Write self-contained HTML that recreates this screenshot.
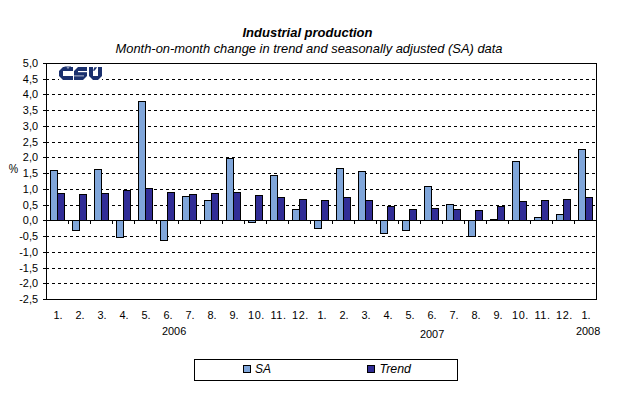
<!DOCTYPE html>
<html><head><meta charset="utf-8"><style>
html,body{margin:0;padding:0;background:#fff;}
svg{display:block;}
text{font-family:"Liberation Sans", sans-serif;fill:#000;}
</style></head><body>
<svg width="618" height="396" viewBox="0 0 618 396">
<g shape-rendering="crispEdges">
<path d="M46 79h3 M52 79h3 M58 79h3 M64 79h3 M70 79h3 M76 79h3 M82 79h3 M88 79h3 M94 79h3 M100 79h3 M106 79h3 M112 79h3 M118 79h3 M124 79h3 M130 79h3 M136 79h3 M142 79h3 M148 79h3 M154 79h3 M160 79h3 M166 79h3 M172 79h3 M178 79h3 M184 79h3 M190 79h3 M196 79h3 M202 79h3 M208 79h3 M214 79h3 M220 79h3 M226 79h3 M232 79h3 M238 79h3 M244 79h3 M250 79h3 M256 79h3 M262 79h3 M268 79h3 M274 79h3 M280 79h3 M286 79h3 M292 79h3 M298 79h3 M304 79h3 M310 79h3 M316 79h3 M322 79h3 M328 79h3 M334 79h3 M340 79h3 M346 79h3 M352 79h3 M358 79h3 M364 79h3 M370 79h3 M376 79h3 M382 79h3 M388 79h3 M394 79h3 M400 79h3 M406 79h3 M412 79h3 M418 79h3 M424 79h3 M430 79h3 M436 79h3 M442 79h3 M448 79h3 M454 79h3 M460 79h3 M466 79h3 M472 79h3 M478 79h3 M484 79h3 M490 79h3 M496 79h3 M502 79h3 M508 79h3 M514 79h3 M520 79h3 M526 79h3 M532 79h3 M538 79h3 M544 79h3 M550 79h3 M556 79h3 M562 79h3 M568 79h3 M574 79h3 M580 79h3 M586 79h3 M592 79h3" stroke="#000" stroke-width="1" transform="translate(0,0.5)"/>
<path d="M46 94h3 M52 94h3 M58 94h3 M64 94h3 M70 94h3 M76 94h3 M82 94h3 M88 94h3 M94 94h3 M100 94h3 M106 94h3 M112 94h3 M118 94h3 M124 94h3 M130 94h3 M136 94h3 M142 94h3 M148 94h3 M154 94h3 M160 94h3 M166 94h3 M172 94h3 M178 94h3 M184 94h3 M190 94h3 M196 94h3 M202 94h3 M208 94h3 M214 94h3 M220 94h3 M226 94h3 M232 94h3 M238 94h3 M244 94h3 M250 94h3 M256 94h3 M262 94h3 M268 94h3 M274 94h3 M280 94h3 M286 94h3 M292 94h3 M298 94h3 M304 94h3 M310 94h3 M316 94h3 M322 94h3 M328 94h3 M334 94h3 M340 94h3 M346 94h3 M352 94h3 M358 94h3 M364 94h3 M370 94h3 M376 94h3 M382 94h3 M388 94h3 M394 94h3 M400 94h3 M406 94h3 M412 94h3 M418 94h3 M424 94h3 M430 94h3 M436 94h3 M442 94h3 M448 94h3 M454 94h3 M460 94h3 M466 94h3 M472 94h3 M478 94h3 M484 94h3 M490 94h3 M496 94h3 M502 94h3 M508 94h3 M514 94h3 M520 94h3 M526 94h3 M532 94h3 M538 94h3 M544 94h3 M550 94h3 M556 94h3 M562 94h3 M568 94h3 M574 94h3 M580 94h3 M586 94h3 M592 94h3" stroke="#000" stroke-width="1" transform="translate(0,0.5)"/>
<path d="M46 110h3 M52 110h3 M58 110h3 M64 110h3 M70 110h3 M76 110h3 M82 110h3 M88 110h3 M94 110h3 M100 110h3 M106 110h3 M112 110h3 M118 110h3 M124 110h3 M130 110h3 M136 110h3 M142 110h3 M148 110h3 M154 110h3 M160 110h3 M166 110h3 M172 110h3 M178 110h3 M184 110h3 M190 110h3 M196 110h3 M202 110h3 M208 110h3 M214 110h3 M220 110h3 M226 110h3 M232 110h3 M238 110h3 M244 110h3 M250 110h3 M256 110h3 M262 110h3 M268 110h3 M274 110h3 M280 110h3 M286 110h3 M292 110h3 M298 110h3 M304 110h3 M310 110h3 M316 110h3 M322 110h3 M328 110h3 M334 110h3 M340 110h3 M346 110h3 M352 110h3 M358 110h3 M364 110h3 M370 110h3 M376 110h3 M382 110h3 M388 110h3 M394 110h3 M400 110h3 M406 110h3 M412 110h3 M418 110h3 M424 110h3 M430 110h3 M436 110h3 M442 110h3 M448 110h3 M454 110h3 M460 110h3 M466 110h3 M472 110h3 M478 110h3 M484 110h3 M490 110h3 M496 110h3 M502 110h3 M508 110h3 M514 110h3 M520 110h3 M526 110h3 M532 110h3 M538 110h3 M544 110h3 M550 110h3 M556 110h3 M562 110h3 M568 110h3 M574 110h3 M580 110h3 M586 110h3 M592 110h3" stroke="#000" stroke-width="1" transform="translate(0,0.5)"/>
<path d="M46 126h3 M52 126h3 M58 126h3 M64 126h3 M70 126h3 M76 126h3 M82 126h3 M88 126h3 M94 126h3 M100 126h3 M106 126h3 M112 126h3 M118 126h3 M124 126h3 M130 126h3 M136 126h3 M142 126h3 M148 126h3 M154 126h3 M160 126h3 M166 126h3 M172 126h3 M178 126h3 M184 126h3 M190 126h3 M196 126h3 M202 126h3 M208 126h3 M214 126h3 M220 126h3 M226 126h3 M232 126h3 M238 126h3 M244 126h3 M250 126h3 M256 126h3 M262 126h3 M268 126h3 M274 126h3 M280 126h3 M286 126h3 M292 126h3 M298 126h3 M304 126h3 M310 126h3 M316 126h3 M322 126h3 M328 126h3 M334 126h3 M340 126h3 M346 126h3 M352 126h3 M358 126h3 M364 126h3 M370 126h3 M376 126h3 M382 126h3 M388 126h3 M394 126h3 M400 126h3 M406 126h3 M412 126h3 M418 126h3 M424 126h3 M430 126h3 M436 126h3 M442 126h3 M448 126h3 M454 126h3 M460 126h3 M466 126h3 M472 126h3 M478 126h3 M484 126h3 M490 126h3 M496 126h3 M502 126h3 M508 126h3 M514 126h3 M520 126h3 M526 126h3 M532 126h3 M538 126h3 M544 126h3 M550 126h3 M556 126h3 M562 126h3 M568 126h3 M574 126h3 M580 126h3 M586 126h3 M592 126h3" stroke="#000" stroke-width="1" transform="translate(0,0.5)"/>
<path d="M46 142h3 M52 142h3 M58 142h3 M64 142h3 M70 142h3 M76 142h3 M82 142h3 M88 142h3 M94 142h3 M100 142h3 M106 142h3 M112 142h3 M118 142h3 M124 142h3 M130 142h3 M136 142h3 M142 142h3 M148 142h3 M154 142h3 M160 142h3 M166 142h3 M172 142h3 M178 142h3 M184 142h3 M190 142h3 M196 142h3 M202 142h3 M208 142h3 M214 142h3 M220 142h3 M226 142h3 M232 142h3 M238 142h3 M244 142h3 M250 142h3 M256 142h3 M262 142h3 M268 142h3 M274 142h3 M280 142h3 M286 142h3 M292 142h3 M298 142h3 M304 142h3 M310 142h3 M316 142h3 M322 142h3 M328 142h3 M334 142h3 M340 142h3 M346 142h3 M352 142h3 M358 142h3 M364 142h3 M370 142h3 M376 142h3 M382 142h3 M388 142h3 M394 142h3 M400 142h3 M406 142h3 M412 142h3 M418 142h3 M424 142h3 M430 142h3 M436 142h3 M442 142h3 M448 142h3 M454 142h3 M460 142h3 M466 142h3 M472 142h3 M478 142h3 M484 142h3 M490 142h3 M496 142h3 M502 142h3 M508 142h3 M514 142h3 M520 142h3 M526 142h3 M532 142h3 M538 142h3 M544 142h3 M550 142h3 M556 142h3 M562 142h3 M568 142h3 M574 142h3 M580 142h3 M586 142h3 M592 142h3" stroke="#000" stroke-width="1" transform="translate(0,0.5)"/>
<path d="M46 157h3 M52 157h3 M58 157h3 M64 157h3 M70 157h3 M76 157h3 M82 157h3 M88 157h3 M94 157h3 M100 157h3 M106 157h3 M112 157h3 M118 157h3 M124 157h3 M130 157h3 M136 157h3 M142 157h3 M148 157h3 M154 157h3 M160 157h3 M166 157h3 M172 157h3 M178 157h3 M184 157h3 M190 157h3 M196 157h3 M202 157h3 M208 157h3 M214 157h3 M220 157h3 M226 157h3 M232 157h3 M238 157h3 M244 157h3 M250 157h3 M256 157h3 M262 157h3 M268 157h3 M274 157h3 M280 157h3 M286 157h3 M292 157h3 M298 157h3 M304 157h3 M310 157h3 M316 157h3 M322 157h3 M328 157h3 M334 157h3 M340 157h3 M346 157h3 M352 157h3 M358 157h3 M364 157h3 M370 157h3 M376 157h3 M382 157h3 M388 157h3 M394 157h3 M400 157h3 M406 157h3 M412 157h3 M418 157h3 M424 157h3 M430 157h3 M436 157h3 M442 157h3 M448 157h3 M454 157h3 M460 157h3 M466 157h3 M472 157h3 M478 157h3 M484 157h3 M490 157h3 M496 157h3 M502 157h3 M508 157h3 M514 157h3 M520 157h3 M526 157h3 M532 157h3 M538 157h3 M544 157h3 M550 157h3 M556 157h3 M562 157h3 M568 157h3 M574 157h3 M580 157h3 M586 157h3 M592 157h3" stroke="#000" stroke-width="1" transform="translate(0,0.5)"/>
<path d="M46 173h3 M52 173h3 M58 173h3 M64 173h3 M70 173h3 M76 173h3 M82 173h3 M88 173h3 M94 173h3 M100 173h3 M106 173h3 M112 173h3 M118 173h3 M124 173h3 M130 173h3 M136 173h3 M142 173h3 M148 173h3 M154 173h3 M160 173h3 M166 173h3 M172 173h3 M178 173h3 M184 173h3 M190 173h3 M196 173h3 M202 173h3 M208 173h3 M214 173h3 M220 173h3 M226 173h3 M232 173h3 M238 173h3 M244 173h3 M250 173h3 M256 173h3 M262 173h3 M268 173h3 M274 173h3 M280 173h3 M286 173h3 M292 173h3 M298 173h3 M304 173h3 M310 173h3 M316 173h3 M322 173h3 M328 173h3 M334 173h3 M340 173h3 M346 173h3 M352 173h3 M358 173h3 M364 173h3 M370 173h3 M376 173h3 M382 173h3 M388 173h3 M394 173h3 M400 173h3 M406 173h3 M412 173h3 M418 173h3 M424 173h3 M430 173h3 M436 173h3 M442 173h3 M448 173h3 M454 173h3 M460 173h3 M466 173h3 M472 173h3 M478 173h3 M484 173h3 M490 173h3 M496 173h3 M502 173h3 M508 173h3 M514 173h3 M520 173h3 M526 173h3 M532 173h3 M538 173h3 M544 173h3 M550 173h3 M556 173h3 M562 173h3 M568 173h3 M574 173h3 M580 173h3 M586 173h3 M592 173h3" stroke="#000" stroke-width="1" transform="translate(0,0.5)"/>
<path d="M46 189h3 M52 189h3 M58 189h3 M64 189h3 M70 189h3 M76 189h3 M82 189h3 M88 189h3 M94 189h3 M100 189h3 M106 189h3 M112 189h3 M118 189h3 M124 189h3 M130 189h3 M136 189h3 M142 189h3 M148 189h3 M154 189h3 M160 189h3 M166 189h3 M172 189h3 M178 189h3 M184 189h3 M190 189h3 M196 189h3 M202 189h3 M208 189h3 M214 189h3 M220 189h3 M226 189h3 M232 189h3 M238 189h3 M244 189h3 M250 189h3 M256 189h3 M262 189h3 M268 189h3 M274 189h3 M280 189h3 M286 189h3 M292 189h3 M298 189h3 M304 189h3 M310 189h3 M316 189h3 M322 189h3 M328 189h3 M334 189h3 M340 189h3 M346 189h3 M352 189h3 M358 189h3 M364 189h3 M370 189h3 M376 189h3 M382 189h3 M388 189h3 M394 189h3 M400 189h3 M406 189h3 M412 189h3 M418 189h3 M424 189h3 M430 189h3 M436 189h3 M442 189h3 M448 189h3 M454 189h3 M460 189h3 M466 189h3 M472 189h3 M478 189h3 M484 189h3 M490 189h3 M496 189h3 M502 189h3 M508 189h3 M514 189h3 M520 189h3 M526 189h3 M532 189h3 M538 189h3 M544 189h3 M550 189h3 M556 189h3 M562 189h3 M568 189h3 M574 189h3 M580 189h3 M586 189h3 M592 189h3" stroke="#000" stroke-width="1" transform="translate(0,0.5)"/>
<path d="M46 205h3 M52 205h3 M58 205h3 M64 205h3 M70 205h3 M76 205h3 M82 205h3 M88 205h3 M94 205h3 M100 205h3 M106 205h3 M112 205h3 M118 205h3 M124 205h3 M130 205h3 M136 205h3 M142 205h3 M148 205h3 M154 205h3 M160 205h3 M166 205h3 M172 205h3 M178 205h3 M184 205h3 M190 205h3 M196 205h3 M202 205h3 M208 205h3 M214 205h3 M220 205h3 M226 205h3 M232 205h3 M238 205h3 M244 205h3 M250 205h3 M256 205h3 M262 205h3 M268 205h3 M274 205h3 M280 205h3 M286 205h3 M292 205h3 M298 205h3 M304 205h3 M310 205h3 M316 205h3 M322 205h3 M328 205h3 M334 205h3 M340 205h3 M346 205h3 M352 205h3 M358 205h3 M364 205h3 M370 205h3 M376 205h3 M382 205h3 M388 205h3 M394 205h3 M400 205h3 M406 205h3 M412 205h3 M418 205h3 M424 205h3 M430 205h3 M436 205h3 M442 205h3 M448 205h3 M454 205h3 M460 205h3 M466 205h3 M472 205h3 M478 205h3 M484 205h3 M490 205h3 M496 205h3 M502 205h3 M508 205h3 M514 205h3 M520 205h3 M526 205h3 M532 205h3 M538 205h3 M544 205h3 M550 205h3 M556 205h3 M562 205h3 M568 205h3 M574 205h3 M580 205h3 M586 205h3 M592 205h3" stroke="#000" stroke-width="1" transform="translate(0,0.5)"/>
<path d="M46 236h3 M52 236h3 M58 236h3 M64 236h3 M70 236h3 M76 236h3 M82 236h3 M88 236h3 M94 236h3 M100 236h3 M106 236h3 M112 236h3 M118 236h3 M124 236h3 M130 236h3 M136 236h3 M142 236h3 M148 236h3 M154 236h3 M160 236h3 M166 236h3 M172 236h3 M178 236h3 M184 236h3 M190 236h3 M196 236h3 M202 236h3 M208 236h3 M214 236h3 M220 236h3 M226 236h3 M232 236h3 M238 236h3 M244 236h3 M250 236h3 M256 236h3 M262 236h3 M268 236h3 M274 236h3 M280 236h3 M286 236h3 M292 236h3 M298 236h3 M304 236h3 M310 236h3 M316 236h3 M322 236h3 M328 236h3 M334 236h3 M340 236h3 M346 236h3 M352 236h3 M358 236h3 M364 236h3 M370 236h3 M376 236h3 M382 236h3 M388 236h3 M394 236h3 M400 236h3 M406 236h3 M412 236h3 M418 236h3 M424 236h3 M430 236h3 M436 236h3 M442 236h3 M448 236h3 M454 236h3 M460 236h3 M466 236h3 M472 236h3 M478 236h3 M484 236h3 M490 236h3 M496 236h3 M502 236h3 M508 236h3 M514 236h3 M520 236h3 M526 236h3 M532 236h3 M538 236h3 M544 236h3 M550 236h3 M556 236h3 M562 236h3 M568 236h3 M574 236h3 M580 236h3 M586 236h3 M592 236h3" stroke="#000" stroke-width="1" transform="translate(0,0.5)"/>
<path d="M46 252h3 M52 252h3 M58 252h3 M64 252h3 M70 252h3 M76 252h3 M82 252h3 M88 252h3 M94 252h3 M100 252h3 M106 252h3 M112 252h3 M118 252h3 M124 252h3 M130 252h3 M136 252h3 M142 252h3 M148 252h3 M154 252h3 M160 252h3 M166 252h3 M172 252h3 M178 252h3 M184 252h3 M190 252h3 M196 252h3 M202 252h3 M208 252h3 M214 252h3 M220 252h3 M226 252h3 M232 252h3 M238 252h3 M244 252h3 M250 252h3 M256 252h3 M262 252h3 M268 252h3 M274 252h3 M280 252h3 M286 252h3 M292 252h3 M298 252h3 M304 252h3 M310 252h3 M316 252h3 M322 252h3 M328 252h3 M334 252h3 M340 252h3 M346 252h3 M352 252h3 M358 252h3 M364 252h3 M370 252h3 M376 252h3 M382 252h3 M388 252h3 M394 252h3 M400 252h3 M406 252h3 M412 252h3 M418 252h3 M424 252h3 M430 252h3 M436 252h3 M442 252h3 M448 252h3 M454 252h3 M460 252h3 M466 252h3 M472 252h3 M478 252h3 M484 252h3 M490 252h3 M496 252h3 M502 252h3 M508 252h3 M514 252h3 M520 252h3 M526 252h3 M532 252h3 M538 252h3 M544 252h3 M550 252h3 M556 252h3 M562 252h3 M568 252h3 M574 252h3 M580 252h3 M586 252h3 M592 252h3" stroke="#000" stroke-width="1" transform="translate(0,0.5)"/>
<path d="M46 268h3 M52 268h3 M58 268h3 M64 268h3 M70 268h3 M76 268h3 M82 268h3 M88 268h3 M94 268h3 M100 268h3 M106 268h3 M112 268h3 M118 268h3 M124 268h3 M130 268h3 M136 268h3 M142 268h3 M148 268h3 M154 268h3 M160 268h3 M166 268h3 M172 268h3 M178 268h3 M184 268h3 M190 268h3 M196 268h3 M202 268h3 M208 268h3 M214 268h3 M220 268h3 M226 268h3 M232 268h3 M238 268h3 M244 268h3 M250 268h3 M256 268h3 M262 268h3 M268 268h3 M274 268h3 M280 268h3 M286 268h3 M292 268h3 M298 268h3 M304 268h3 M310 268h3 M316 268h3 M322 268h3 M328 268h3 M334 268h3 M340 268h3 M346 268h3 M352 268h3 M358 268h3 M364 268h3 M370 268h3 M376 268h3 M382 268h3 M388 268h3 M394 268h3 M400 268h3 M406 268h3 M412 268h3 M418 268h3 M424 268h3 M430 268h3 M436 268h3 M442 268h3 M448 268h3 M454 268h3 M460 268h3 M466 268h3 M472 268h3 M478 268h3 M484 268h3 M490 268h3 M496 268h3 M502 268h3 M508 268h3 M514 268h3 M520 268h3 M526 268h3 M532 268h3 M538 268h3 M544 268h3 M550 268h3 M556 268h3 M562 268h3 M568 268h3 M574 268h3 M580 268h3 M586 268h3 M592 268h3" stroke="#000" stroke-width="1" transform="translate(0,0.5)"/>
<path d="M46 283h3 M52 283h3 M58 283h3 M64 283h3 M70 283h3 M76 283h3 M82 283h3 M88 283h3 M94 283h3 M100 283h3 M106 283h3 M112 283h3 M118 283h3 M124 283h3 M130 283h3 M136 283h3 M142 283h3 M148 283h3 M154 283h3 M160 283h3 M166 283h3 M172 283h3 M178 283h3 M184 283h3 M190 283h3 M196 283h3 M202 283h3 M208 283h3 M214 283h3 M220 283h3 M226 283h3 M232 283h3 M238 283h3 M244 283h3 M250 283h3 M256 283h3 M262 283h3 M268 283h3 M274 283h3 M280 283h3 M286 283h3 M292 283h3 M298 283h3 M304 283h3 M310 283h3 M316 283h3 M322 283h3 M328 283h3 M334 283h3 M340 283h3 M346 283h3 M352 283h3 M358 283h3 M364 283h3 M370 283h3 M376 283h3 M382 283h3 M388 283h3 M394 283h3 M400 283h3 M406 283h3 M412 283h3 M418 283h3 M424 283h3 M430 283h3 M436 283h3 M442 283h3 M448 283h3 M454 283h3 M460 283h3 M466 283h3 M472 283h3 M478 283h3 M484 283h3 M490 283h3 M496 283h3 M502 283h3 M508 283h3 M514 283h3 M520 283h3 M526 283h3 M532 283h3 M538 283h3 M544 283h3 M550 283h3 M556 283h3 M562 283h3 M568 283h3 M574 283h3 M580 283h3 M586 283h3 M592 283h3" stroke="#000" stroke-width="1" transform="translate(0,0.5)"/>
<rect x="50" y="170" width="8" height="51" fill="#000"/>
<rect x="51" y="171" width="6" height="49" fill="#80a6da"/>
<rect x="57" y="193" width="8" height="28" fill="#000"/>
<rect x="58" y="194" width="6" height="26" fill="#312d96"/>
<rect x="72" y="220" width="8" height="11" fill="#000"/>
<rect x="73" y="221" width="6" height="9" fill="#80a6da"/>
<rect x="79" y="194" width="8" height="27" fill="#000"/>
<rect x="80" y="195" width="6" height="25" fill="#312d96"/>
<rect x="94" y="169" width="8" height="52" fill="#000"/>
<rect x="95" y="170" width="6" height="50" fill="#80a6da"/>
<rect x="101" y="193" width="8" height="28" fill="#000"/>
<rect x="102" y="194" width="6" height="26" fill="#312d96"/>
<rect x="116" y="220" width="8" height="18" fill="#000"/>
<rect x="117" y="221" width="6" height="16" fill="#80a6da"/>
<rect x="123" y="190" width="8" height="31" fill="#000"/>
<rect x="124" y="191" width="6" height="29" fill="#312d96"/>
<rect x="138" y="101" width="8" height="120" fill="#000"/>
<rect x="139" y="102" width="6" height="118" fill="#80a6da"/>
<rect x="145" y="188" width="8" height="33" fill="#000"/>
<rect x="146" y="189" width="6" height="31" fill="#312d96"/>
<rect x="160" y="220" width="8" height="21" fill="#000"/>
<rect x="161" y="221" width="6" height="19" fill="#80a6da"/>
<rect x="167" y="192" width="8" height="29" fill="#000"/>
<rect x="168" y="193" width="6" height="27" fill="#312d96"/>
<rect x="182" y="196" width="8" height="25" fill="#000"/>
<rect x="183" y="197" width="6" height="23" fill="#80a6da"/>
<rect x="189" y="194" width="8" height="27" fill="#000"/>
<rect x="190" y="195" width="6" height="25" fill="#312d96"/>
<rect x="204" y="200" width="8" height="21" fill="#000"/>
<rect x="205" y="201" width="6" height="19" fill="#80a6da"/>
<rect x="211" y="193" width="8" height="28" fill="#000"/>
<rect x="212" y="194" width="6" height="26" fill="#312d96"/>
<rect x="226" y="158" width="8" height="63" fill="#000"/>
<rect x="227" y="159" width="6" height="61" fill="#80a6da"/>
<rect x="233" y="192" width="8" height="29" fill="#000"/>
<rect x="234" y="193" width="6" height="27" fill="#312d96"/>
<rect x="248" y="220" width="8" height="3" fill="#000"/>
<rect x="249" y="221" width="6" height="1" fill="#80a6da"/>
<rect x="255" y="195" width="8" height="26" fill="#000"/>
<rect x="256" y="196" width="6" height="24" fill="#312d96"/>
<rect x="270" y="175" width="8" height="46" fill="#000"/>
<rect x="271" y="176" width="6" height="44" fill="#80a6da"/>
<rect x="277" y="197" width="8" height="24" fill="#000"/>
<rect x="278" y="198" width="6" height="22" fill="#312d96"/>
<rect x="292" y="209" width="8" height="12" fill="#000"/>
<rect x="293" y="210" width="6" height="10" fill="#80a6da"/>
<rect x="299" y="199" width="8" height="22" fill="#000"/>
<rect x="300" y="200" width="6" height="20" fill="#312d96"/>
<rect x="314" y="220" width="8" height="9" fill="#000"/>
<rect x="315" y="221" width="6" height="7" fill="#80a6da"/>
<rect x="321" y="200" width="8" height="21" fill="#000"/>
<rect x="322" y="201" width="6" height="19" fill="#312d96"/>
<rect x="336" y="168" width="8" height="53" fill="#000"/>
<rect x="337" y="169" width="6" height="51" fill="#80a6da"/>
<rect x="343" y="197" width="8" height="24" fill="#000"/>
<rect x="344" y="198" width="6" height="22" fill="#312d96"/>
<rect x="358" y="171" width="8" height="50" fill="#000"/>
<rect x="359" y="172" width="6" height="48" fill="#80a6da"/>
<rect x="365" y="200" width="8" height="21" fill="#000"/>
<rect x="366" y="201" width="6" height="19" fill="#312d96"/>
<rect x="380" y="220" width="8" height="14" fill="#000"/>
<rect x="381" y="221" width="6" height="12" fill="#80a6da"/>
<rect x="387" y="206" width="8" height="15" fill="#000"/>
<rect x="388" y="207" width="6" height="13" fill="#312d96"/>
<rect x="402" y="220" width="8" height="11" fill="#000"/>
<rect x="403" y="221" width="6" height="9" fill="#80a6da"/>
<rect x="409" y="209" width="8" height="12" fill="#000"/>
<rect x="410" y="210" width="6" height="10" fill="#312d96"/>
<rect x="424" y="186" width="8" height="35" fill="#000"/>
<rect x="425" y="187" width="6" height="33" fill="#80a6da"/>
<rect x="431" y="208" width="8" height="13" fill="#000"/>
<rect x="432" y="209" width="6" height="11" fill="#312d96"/>
<rect x="446" y="204" width="8" height="17" fill="#000"/>
<rect x="447" y="205" width="6" height="15" fill="#80a6da"/>
<rect x="453" y="209" width="8" height="12" fill="#000"/>
<rect x="454" y="210" width="6" height="10" fill="#312d96"/>
<rect x="468" y="220" width="8" height="17" fill="#000"/>
<rect x="469" y="221" width="6" height="15" fill="#80a6da"/>
<rect x="475" y="210" width="8" height="11" fill="#000"/>
<rect x="476" y="211" width="6" height="9" fill="#312d96"/>
<rect x="490" y="219" width="8" height="2" fill="#000"/>
<rect x="497" y="206" width="8" height="15" fill="#000"/>
<rect x="498" y="207" width="6" height="13" fill="#312d96"/>
<rect x="512" y="161" width="8" height="60" fill="#000"/>
<rect x="513" y="162" width="6" height="58" fill="#80a6da"/>
<rect x="519" y="201" width="8" height="20" fill="#000"/>
<rect x="520" y="202" width="6" height="18" fill="#312d96"/>
<rect x="534" y="217" width="8" height="4" fill="#000"/>
<rect x="535" y="218" width="6" height="2" fill="#80a6da"/>
<rect x="541" y="200" width="8" height="21" fill="#000"/>
<rect x="542" y="201" width="6" height="19" fill="#312d96"/>
<rect x="556" y="214" width="8" height="7" fill="#000"/>
<rect x="557" y="215" width="6" height="5" fill="#80a6da"/>
<rect x="563" y="199" width="8" height="22" fill="#000"/>
<rect x="564" y="200" width="6" height="20" fill="#312d96"/>
<rect x="578" y="149" width="8" height="72" fill="#000"/>
<rect x="579" y="150" width="6" height="70" fill="#80a6da"/>
<rect x="585" y="197" width="8" height="24" fill="#000"/>
<rect x="586" y="198" width="6" height="22" fill="#312d96"/>
<rect x="46" y="63" width="551" height="1" fill="#000"/>
<rect x="46" y="63" width="1" height="237" fill="#000"/>
<rect x="596" y="63" width="1" height="237" fill="#000"/>
<rect x="43" y="299" width="554" height="1" fill="#000"/>
<rect x="43" y="220" width="554" height="1" fill="#000"/>
<rect x="43" y="63" width="4" height="1" fill="#000"/>
<rect x="43" y="79" width="4" height="1" fill="#000"/>
<rect x="43" y="94" width="4" height="1" fill="#000"/>
<rect x="43" y="110" width="4" height="1" fill="#000"/>
<rect x="43" y="126" width="4" height="1" fill="#000"/>
<rect x="43" y="142" width="4" height="1" fill="#000"/>
<rect x="43" y="157" width="4" height="1" fill="#000"/>
<rect x="43" y="173" width="4" height="1" fill="#000"/>
<rect x="43" y="189" width="4" height="1" fill="#000"/>
<rect x="43" y="205" width="4" height="1" fill="#000"/>
<rect x="43" y="220" width="4" height="1" fill="#000"/>
<rect x="43" y="236" width="4" height="1" fill="#000"/>
<rect x="43" y="252" width="4" height="1" fill="#000"/>
<rect x="43" y="268" width="4" height="1" fill="#000"/>
<rect x="43" y="283" width="4" height="1" fill="#000"/>
<rect x="43" y="299" width="4" height="1" fill="#000"/>
<rect x="68" y="221" width="1" height="3" fill="#000"/>
<rect x="90" y="221" width="1" height="3" fill="#000"/>
<rect x="112" y="221" width="1" height="3" fill="#000"/>
<rect x="134" y="221" width="1" height="3" fill="#000"/>
<rect x="156" y="221" width="1" height="3" fill="#000"/>
<rect x="178" y="221" width="1" height="3" fill="#000"/>
<rect x="200" y="221" width="1" height="3" fill="#000"/>
<rect x="222" y="221" width="1" height="3" fill="#000"/>
<rect x="244" y="221" width="1" height="3" fill="#000"/>
<rect x="266" y="221" width="1" height="3" fill="#000"/>
<rect x="288" y="221" width="1" height="3" fill="#000"/>
<rect x="310" y="221" width="1" height="3" fill="#000"/>
<rect x="332" y="221" width="1" height="3" fill="#000"/>
<rect x="354" y="221" width="1" height="3" fill="#000"/>
<rect x="376" y="221" width="1" height="3" fill="#000"/>
<rect x="398" y="221" width="1" height="3" fill="#000"/>
<rect x="420" y="221" width="1" height="3" fill="#000"/>
<rect x="442" y="221" width="1" height="3" fill="#000"/>
<rect x="464" y="221" width="1" height="3" fill="#000"/>
<rect x="486" y="221" width="1" height="3" fill="#000"/>
<rect x="508" y="221" width="1" height="3" fill="#000"/>
<rect x="530" y="221" width="1" height="3" fill="#000"/>
<rect x="552" y="221" width="1" height="3" fill="#000"/>
<rect x="574" y="221" width="1" height="3" fill="#000"/>
</g><g fill="#1a306e">
<rect x="59" y="67" width="43" height="13" fill="#fff"/>
<path d="M63 67H73V71H63V76H73V80H63L59 76V71Z"/>
<path d="M64.5 66H71V67H64.5Z" fill-opacity="0.5"/>
<path d="M66.5 67H69.5L68 69.3Z" fill="#fff" fill-opacity="0.5"/>
<path d="M78 67H87V76L83 80H74V71Z"/>
<rect x="78" y="71" width="9" height="1.2" fill="#fff"/>
<rect x="74" y="75.2" width="10" height="1.3" fill="#fff" fill-opacity="0.5"/>
<path d="M89 67H93V76H98V67H102V76L98 80H93L89 76Z"/>
<path d="M94.4 67.3H97.2L94.5 70.8H93Z"/>
</g><g shape-rendering="crispEdges">
<rect x="194" y="359" width="264" height="1" fill="#000"/>
<rect x="194" y="380" width="264" height="1" fill="#000"/>
<rect x="194" y="359" width="1" height="22" fill="#000"/>
<rect x="457" y="359" width="1" height="22" fill="#000"/>
<rect x="243" y="365" width="8" height="8" fill="#000"/>
<rect x="244" y="366" width="6" height="6" fill="#80a6da"/>
<rect x="367" y="365" width="8" height="8" fill="#000"/>
<rect x="368" y="366" width="6" height="6" fill="#312d96"/>
</g>
<text x="38" y="67" font-size="10.9" text-anchor="end" font-style="normal" font-weight="normal">5,0</text>
<text x="38" y="83" font-size="10.9" text-anchor="end" font-style="normal" font-weight="normal">4,5</text>
<text x="38" y="98" font-size="10.9" text-anchor="end" font-style="normal" font-weight="normal">4,0</text>
<text x="38" y="114" font-size="10.9" text-anchor="end" font-style="normal" font-weight="normal">3,5</text>
<text x="38" y="130" font-size="10.9" text-anchor="end" font-style="normal" font-weight="normal">3,0</text>
<text x="38" y="146" font-size="10.9" text-anchor="end" font-style="normal" font-weight="normal">2,5</text>
<text x="38" y="161" font-size="10.9" text-anchor="end" font-style="normal" font-weight="normal">2,0</text>
<text x="38" y="177" font-size="10.9" text-anchor="end" font-style="normal" font-weight="normal">1,5</text>
<text x="38" y="193" font-size="10.9" text-anchor="end" font-style="normal" font-weight="normal">1,0</text>
<text x="38" y="209" font-size="10.9" text-anchor="end" font-style="normal" font-weight="normal">0,5</text>
<text x="38" y="224" font-size="10.9" text-anchor="end" font-style="normal" font-weight="normal">0,0</text>
<text x="38" y="240" font-size="10.9" text-anchor="end" font-style="normal" font-weight="normal">-0,5</text>
<text x="38" y="256" font-size="10.9" text-anchor="end" font-style="normal" font-weight="normal">-1,0</text>
<text x="38" y="272" font-size="10.9" text-anchor="end" font-style="normal" font-weight="normal">-1,5</text>
<text x="38" y="287" font-size="10.9" text-anchor="end" font-style="normal" font-weight="normal">-2,0</text>
<text x="38" y="303" font-size="10.9" text-anchor="end" font-style="normal" font-weight="normal">-2,5</text>
<text x="58" y="319" font-size="10.9" text-anchor="middle" font-style="normal" font-weight="normal">1.</text>
<text x="80" y="319" font-size="10.9" text-anchor="middle" font-style="normal" font-weight="normal">2.</text>
<text x="102" y="319" font-size="10.9" text-anchor="middle" font-style="normal" font-weight="normal">3.</text>
<text x="124" y="319" font-size="10.9" text-anchor="middle" font-style="normal" font-weight="normal">4.</text>
<text x="146" y="319" font-size="10.9" text-anchor="middle" font-style="normal" font-weight="normal">5.</text>
<text x="168" y="319" font-size="10.9" text-anchor="middle" font-style="normal" font-weight="normal">6.</text>
<text x="190" y="319" font-size="10.9" text-anchor="middle" font-style="normal" font-weight="normal">7.</text>
<text x="212" y="319" font-size="10.9" text-anchor="middle" font-style="normal" font-weight="normal">8.</text>
<text x="234" y="319" font-size="10.9" text-anchor="middle" font-style="normal" font-weight="normal">9.</text>
<text x="256.5" y="319" font-size="10.9" text-anchor="middle" font-style="normal" font-weight="normal" letter-spacing="0.6">10.</text>
<text x="278.5" y="319" font-size="10.9" text-anchor="middle" font-style="normal" font-weight="normal" letter-spacing="0.6">11.</text>
<text x="300.5" y="319" font-size="10.9" text-anchor="middle" font-style="normal" font-weight="normal" letter-spacing="0.6">12.</text>
<text x="322" y="319" font-size="10.9" text-anchor="middle" font-style="normal" font-weight="normal">1.</text>
<text x="344" y="319" font-size="10.9" text-anchor="middle" font-style="normal" font-weight="normal">2.</text>
<text x="366" y="319" font-size="10.9" text-anchor="middle" font-style="normal" font-weight="normal">3.</text>
<text x="388" y="319" font-size="10.9" text-anchor="middle" font-style="normal" font-weight="normal">4.</text>
<text x="410" y="319" font-size="10.9" text-anchor="middle" font-style="normal" font-weight="normal">5.</text>
<text x="432" y="319" font-size="10.9" text-anchor="middle" font-style="normal" font-weight="normal">6.</text>
<text x="454" y="319" font-size="10.9" text-anchor="middle" font-style="normal" font-weight="normal">7.</text>
<text x="476" y="319" font-size="10.9" text-anchor="middle" font-style="normal" font-weight="normal">8.</text>
<text x="498" y="319" font-size="10.9" text-anchor="middle" font-style="normal" font-weight="normal">9.</text>
<text x="520.5" y="319" font-size="10.9" text-anchor="middle" font-style="normal" font-weight="normal" letter-spacing="0.6">10.</text>
<text x="542.5" y="319" font-size="10.9" text-anchor="middle" font-style="normal" font-weight="normal" letter-spacing="0.6">11.</text>
<text x="564.5" y="319" font-size="10.9" text-anchor="middle" font-style="normal" font-weight="normal" letter-spacing="0.6">12.</text>
<text x="586" y="319" font-size="10.9" text-anchor="middle" font-style="normal" font-weight="normal">1.</text>
<text x="162" y="335" font-size="10.9" text-anchor="start" font-style="normal" font-weight="normal">2006</text>
<text x="420" y="337.5" font-size="10.9" text-anchor="start" font-style="normal" font-weight="normal">2007</text>
<text x="576" y="334.7" font-size="10.9" text-anchor="start" font-style="normal" font-weight="normal">2008</text>
<text transform="translate(8.8,173) scale(0.88,1)" font-size="12">%</text>
<text x="307.5" y="36.6" font-size="13" text-anchor="middle" font-style="italic" font-weight="bold">Industrial production</text>
<text x="309" y="53" font-size="12.9" text-anchor="middle" font-style="italic" font-weight="normal">Month-on-month change in trend and seasonally adjusted (SA) data</text>
<text x="255" y="372.7" font-size="12" text-anchor="start" font-style="italic" font-weight="normal">SA</text>
<text x="379.5" y="372.7" font-size="12.4" text-anchor="start" font-style="italic" font-weight="normal">Trend</text>
</svg>
</body></html>
